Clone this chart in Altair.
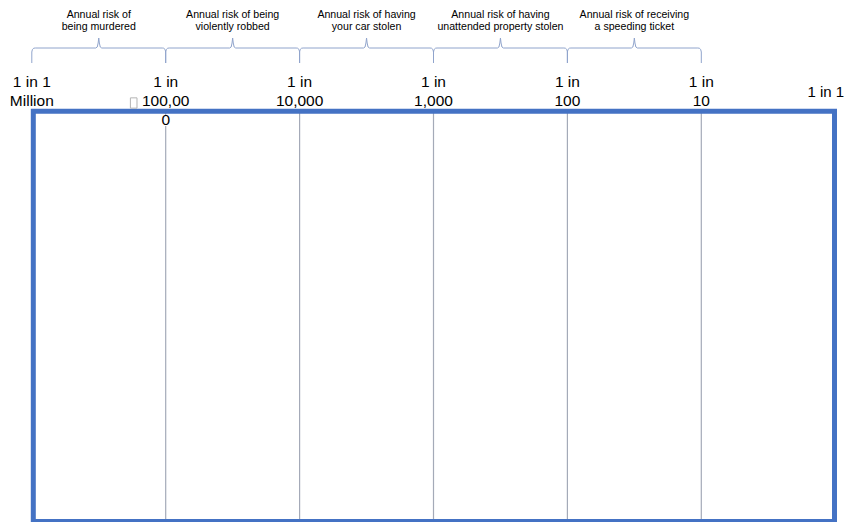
import altair as alt
import numpy as np
import pandas as pd

# ---- data ----
tick_values = [1e-6, 1e-5, 1e-4, 1e-3, 1e-2, 1e-1, 1]
tick_labels = ["1 in 1\nMillion", "1 in\n100,00\n0", "1 in\n10,000", "1 in\n1,000",
               "1 in\n100", "1 in\n10", "1 in 1"]
risk_from = [1e-6, 1e-5, 1e-4, 1e-3, 1e-2]
risk_to = [1e-5, 1e-4, 1e-3, 1e-2, 1e-1]
risk_labels = ["Annual risk of\nbeing murdered",
               "Annual risk of being\nviolently robbed",
               "Annual risk of having\nyour car stolen",
               "Annual risk of having\nunattended  property stolen",
               "Annual risk of receiving\na speeding ticket"]

W, H = 838, 514
x0_px, x1_px = 23.8, 827.2
PX = 6.0 / (x1_px - x0_px)  # log10 units per pixel

ticks = pd.DataFrame({"u": np.log10(tick_values), "label": tick_labels})
ticks["i"] = range(len(ticks))
risks = pd.DataFrame({"a": np.log10(risk_from), "b": np.log10(risk_to), "label": risk_labels})
risks["u"] = (risks["a"] + risks["b"]) / 2

# brace outline built from each risk interval
rows = []
for k, r in risks.iterrows():
    a, b, m = r["a"], r["b"], r["u"]
    shape = [(a, 0, 55), (a, 0, 44), (a, 0.6, 41.5), (a, 2, 40.2), (a, 3.5, 40),
             (m, -3, 40), (m, -1.5, 39), (m, -0.6, 35), (m, 0, 30), (m, 0.6, 35),
             (m, 1.5, 39), (m, 3, 40),
             (b, -3.5, 40), (b, -2, 40.2), (b, -0.6, 41.5), (b, 0, 44), (b, 0, 55)]
    for j, (base, dpx, yp) in enumerate(shape):
        rows.append({"brace": k, "order": j, "u": base + dpx * PX, "yp": yp})
braces = pd.DataFrame(rows)

border = pd.DataFrame({"u": [np.log10(tick_values[0])], "u2": [np.log10(tick_values[-1])]})

xscale = alt.Scale(domain=[-6, 0], range=[x0_px, x1_px], nice=False, zero=False)
X = alt.X("u:Q", scale=xscale, axis=None)
FONT = "Liberation Sans"

rules = alt.Chart(ticks).transform_filter("datum.i > 0 && datum.i < 6").mark_rule(
    color="#a4aab8", strokeWidth=1.2
).encode(x=X, y=alt.value(104), y2=alt.value(512))

mask = alt.Chart(ticks).transform_filter("datum.i == 1").mark_square(
    size=121, color="white", opacity=1
).encode(x=X, y=alt.value(112.5))

frame = alt.Chart(border).mark_rect(
    filled=False, color="#4472C4", strokeWidth=5, xOffset=1.5, x2Offset=-0.7
).encode(x=X, x2="u2:Q", y=alt.value(103.3), y2=alt.value(513.5))

tick_text = alt.Chart(ticks).transform_filter("datum.i < 6").mark_text(
    font=FONT, fontSize=15.5, color="black", align="center", baseline="alphabetic",
    lineBreak="\n", lineHeight=19
).encode(x=X, y=alt.value(79), text="label:N")

last_text = alt.Chart(ticks).transform_filter("datum.i == 6").mark_text(
    font=FONT, fontSize=15, color="black", align="right", baseline="alphabetic", dx=9
).encode(x=X, y=alt.value(89), text="label:N")

tofu = alt.Chart(ticks).transform_filter("datum.i == 1").mark_point(
    shape="M-0.64,-1H0.64V1H-0.64Z", size=106, filled=False, color="#b4b4b4",
    strokeWidth=1, opacity=1, xOffset=-32
).encode(x=X, y=alt.value(95))

brace_lines = alt.Chart(braces).mark_line(color="#90a4cc", strokeWidth=1).encode(
    x=X,
    y=alt.Y("yp:Q", scale=alt.Scale(domain=[0, H], range=[0, H]), axis=None),
    detail="brace:N",
    order="order:Q",
)

risk_text = alt.Chart(risks).mark_text(
    font=FONT, fontSize=10.6, color="black", align="center", baseline="alphabetic",
    lineBreak="\n", lineHeight=11.8
).encode(x=X, y=alt.value(9.8), text="label:N")

chart = alt.layer(
    rules, mask, frame, tick_text, last_text, tofu, brace_lines, risk_text
).properties(
    width=W, height=H, autosize=alt.AutoSizeParams(type="none"), padding=0
).configure_view(stroke=None)

chart.save("out.html", embed_options={"renderer": "svg", "actions": False})
